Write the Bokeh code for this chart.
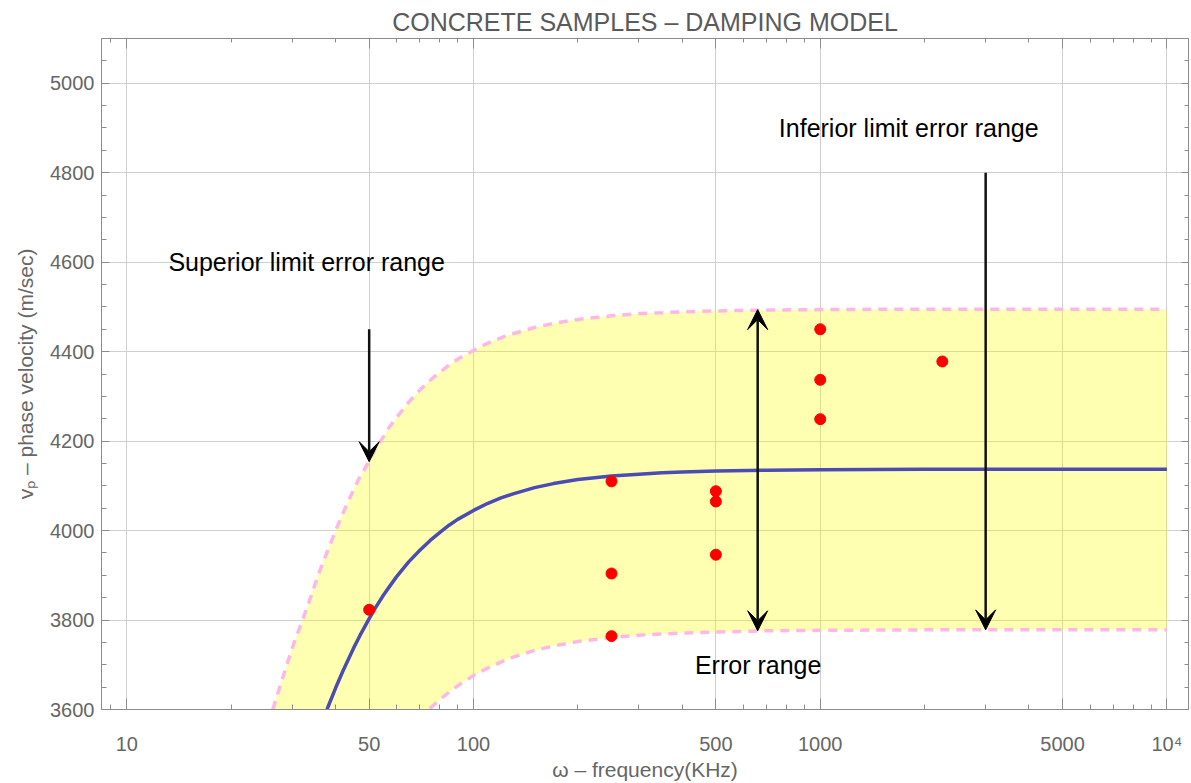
from bokeh.plotting import figure
from bokeh.models import (Range1d, FixedTicker, LogAxis, LinearAxis, Arrow, VeeHead,
                          ColumnDataSource, CustomJSTickFormatter)
from bokeh.embed import file_html
from bokeh.resources import INLINE
from bokeh.core.properties import value

# ---------------- data ----------------
freq_curve = [24, 26, 28, 30, 33, 36, 38, 40, 42, 45, 47, 50, 52, 55, 57, 60, 65, 70,
              75, 80, 85, 90, 100, 110, 120, 130, 150, 170, 200, 250, 300, 350, 400,
              500, 700, 1000, 2000, 5000, 10000]
v_model = [3088, 3194, 3287, 3368, 3471, 3556, 3605, 3648, 3686, 3736, 3765, 3803,
           3826, 3856, 3873, 3897, 3930, 3956, 3978, 3996, 4012, 4025, 4045, 4061,
           4073, 4082, 4096, 4105, 4114, 4122, 4126, 4129, 4131, 4133, 4135, 4136,
           4137, 4137, 4137]
v_upper = [3460, 3585, 3665, 3738, 3825, 3910, 3956, 4000, 4039, 4090, 4120, 4155,
           4182, 4210, 4230, 4253, 4287, 4314, 4336, 4354, 4370, 4383, 4403, 4419,
           4431, 4440, 4454, 4463, 4472, 4480, 4485, 4487, 4489, 4491, 4493, 4494,
           4495, 4495, 4495]
v_lower = [2688, 2792, 2884, 2965, 3069, 3156, 3206, 3250, 3290, 3343, 3374, 3414,
           3438, 3470, 3488, 3514, 3549, 3579, 3603, 3622, 3639, 3653, 3676, 3693,
           3706, 3717, 3732, 3742, 3752, 3761, 3766, 3769, 3771, 3773, 3776, 3777,
           3778, 3778, 3778]

sample_freq = [50, 250, 250, 250, 500, 500, 500, 1000, 1000, 1000, 2250]
sample_vel = [3823, 4110, 3904, 3764, 4088, 4065, 3946, 4450, 4337, 4249, 4378]

x_major = [10, 50, 100, 500, 1000, 5000, 10000]
x_minor = [9, 20, 30, 40, 60, 70, 80, 90, 200, 300, 400, 600, 700, 800, 900,
           2000, 3000, 4000, 6000, 7000, 8000, 9000]
y_major = [3600, 3800, 4000, 4200, 4400, 4600, 4800, 5000]
y_minor = [3650, 3700, 3750, 3850, 3900, 3950, 4050, 4100, 4150, 4250, 4300, 4350,
           4450, 4500, 4550, 4650, 4700, 4750, 4850, 4900, 4950, 5050]

# annotations: (x, y_from, y_to)
arrow_sup = (50, 4450, 4154)
arrow_inf = (3000, 4800, 3778)
arrow_err = (660, 3776, 4494)

label_text = ["Superior limit error range", "Inferior limit error range", "Error range"]
label_x = [33, 1800, 662]
label_y = [4600, 4900, 3700]

# ---------------- figure ----------------
FONT = "Liberation Sans"
GRAY = "#666666"
FRAME = "#8c8c8c"

p = figure(width=1191, height=783, x_axis_type="log",
           x_range=Range1d(8.45, 11540), y_range=Range1d(3600, 5100),
           output_backend="svg", toolbar_location=None,
           min_border_left=101, min_border_right=3, min_border_top=38,
           min_border_bottom=74)

p.title.text = "CONCRETE SAMPLES \u2013 DAMPING MODEL"
p.title.align = "center"
p.title.text_font = FONT
p.title.text_font_size = "25px"
p.title.text_font_style = "normal"
p.title.text_color = "#5a5a5a"
p.title.standoff = 5

p.outline_line_color = FRAME
p.background_fill_color = "white"

xt = FixedTicker(ticks=x_major, minor_ticks=x_minor)
yt = FixedTicker(ticks=y_major, minor_ticks=y_minor)

xa = p.xaxis[0]
xa.ticker = xt
xa.formatter = CustomJSTickFormatter(code="return tick >= 10000 ? '10\u2074' : String(tick);")
ya = p.yaxis[0]
ya.ticker = yt

for ax in (xa, ya):
    ax.axis_line_color = FRAME
    ax.major_tick_line_color = FRAME
    ax.minor_tick_line_color = FRAME
    ax.major_tick_out = 0
    ax.minor_tick_out = 0
    ax.major_label_text_font = FONT
    ax.major_label_text_font_size = "20px"
    ax.major_label_text_color = GRAY
    ax.axis_label_text_font = FONT
    ax.axis_label_text_font_size = "21px"
    ax.axis_label_text_font_style = "normal"
    ax.axis_label_text_color = GRAY

xa.major_tick_in = 11
xa.minor_tick_in = 5
xa.major_label_standoff = 23
xa.axis_label_standoff = 0
xa.axis_label = "\u03c9 \u2013 frequency(KHz)"

ya.major_tick_in = 8
ya.minor_tick_in = 5
ya.major_label_standoff = 7
ya.axis_label_standoff = 10
ya.axis_label = "v\u209a \u2013 phase velocity (m/sec)"

blank = CustomJSTickFormatter(code="return '';")
top = LogAxis(ticker=xt, formatter=blank, major_tick_in=10, major_tick_out=0,
              minor_tick_in=4, minor_tick_out=0, axis_line_color=FRAME,
              major_tick_line_color=FRAME, minor_tick_line_color=FRAME,
              major_label_standoff=0, major_label_text_font_size="0px")
p.add_layout(top, "above")
right = LinearAxis(ticker=yt, formatter=blank, major_tick_in=7, major_tick_out=0,
                   minor_tick_in=4, minor_tick_out=0, axis_line_color=FRAME,
                   major_tick_line_color=FRAME, minor_tick_line_color=FRAME,
                   major_label_standoff=0, major_label_text_font_size="0px")
p.add_layout(right, "right")

p.xgrid.ticker = xt
p.ygrid.ticker = yt
p.xgrid.grid_line_color = "#cfcfcf"
p.ygrid.grid_line_color = "#cfcfcf"

src = ColumnDataSource(dict(f=freq_curve, m=v_model, u=v_upper, l=v_lower))
p.varea(x="f", y1="l", y2="u", source=src, fill_color="#ffff00", fill_alpha=0.3)
p.line(x="f", y="u", source=src, line_color="#ffb8e4", line_width=3.5, line_dash="9 7")
p.line(x="f", y="l", source=src, line_color="#ffb8e4", line_width=3.5, line_dash="9 7")
p.line(x="f", y="m", source=src, line_color="#4b4bb4", line_width=3.5)

p.scatter(x=sample_freq, y=sample_vel, size=11, color="#ff0000")

def head():
    return VeeHead(size=20, fill_color="black", line_color="black")

for (ax_, y0, y1) in (arrow_sup, arrow_inf):
    p.add_layout(Arrow(end=head(), x_start=ax_, y_start=y0, x_end=ax_, y_end=y1,
                       line_width=2.5, line_color="#111111"))
p.add_layout(Arrow(start=head(), end=head(), x_start=arrow_err[0], y_start=arrow_err[1],
                   x_end=arrow_err[0], y_end=arrow_err[2], line_width=2.5,
                   line_color="#111111"))

lsrc = ColumnDataSource(dict(x=label_x, y=label_y, t=label_text))
p.text(x="x", y="y", text="t", source=lsrc, text_font=value(FONT),
       text_font_size="25px", text_color="black", text_align="center",
       text_baseline="middle")

open("out.html", "w").write(file_html(p, INLINE))
